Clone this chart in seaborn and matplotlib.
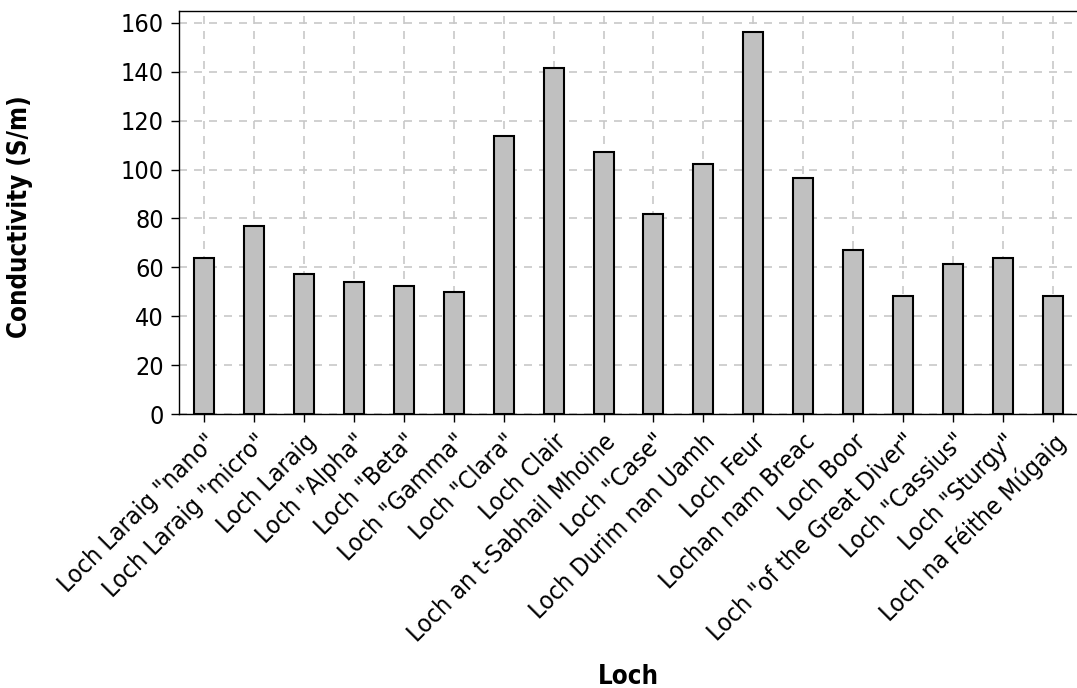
import matplotlib
matplotlib.use("Agg")
import matplotlib.pyplot as plt
import seaborn as sns
import pandas as pd
from matplotlib import font_manager as fm

lochs = [
    'Loch Laraig "nano"', 'Loch Laraig "micro"', 'Loch Laraig', 'Loch "Alpha"',
    'Loch "Beta"', 'Loch "Gamma"', 'Loch "Clara"', 'Loch Clair',
    'Loch an t-Sabhail Mhoine', 'Loch "Case"', 'Loch Durim nan Uamh', 'Loch Feur',
    'Lochan nam Breac', 'Loch Boor', 'Loch "of the Great Diver"', 'Loch "Cassius"',
    'Loch "Sturgy"', 'Loch na Féithe Múgaig',
]
conductivity = [63.7, 76.8, 57.1, 53.9, 52.2, 49.8, 113.6, 141.4,
                107.0, 81.7, 102.1, 156.1, 96.4, 67.0, 48.1, 61.2,
                63.7, 48.1]
y_ticks = [0, 20, 40, 60, 80, 100, 120, 140, 160]

df = pd.DataFrame({"Loch": lochs, "Conductivity": conductivity})

sns.set_style("white")
# Tahoma-like look: use condensed DejaVu if it's installed
path = fm.findfont(fm.FontProperties(family="DejaVu Sans", stretch="condensed"))
plt.rcParams["font.family"] = ["DejaVu Sans"]
if "Condensed" in path:
    plt.rcParams["font.stretch"] = "condensed"
    fsize, lsize = 18, 18.5
else:
    fsize, lsize = 16.5, 17
plt.rcParams.update({"text.color": "black", "axes.labelcolor": "black",
                     "xtick.color": "black", "ytick.color": "black"})

fig = plt.figure(figsize=(10.77, 6.88), dpi=100)
ax = fig.add_axes([179 / 1077, 1 - 414 / 688, 899 / 1077, (414 - 10.7) / 688])

sns.barplot(data=df, x="Loch", y="Conductivity", ax=ax, width=0.4,
            color="#c0c0c0", saturation=1, edgecolor="black", linewidth=1.5,
            zorder=3)

ax.set_xlim(-0.5, len(lochs) - 0.5)
ax.set_ylim(0, 165)
ax.set_yticks(y_ticks)
ax.grid(True, color="#c8c8c8", linestyle=(0, (4.8, 4.2)), linewidth=1.2, zorder=0)
ax.set_axisbelow(True)

for s in ax.spines.values():
    s.set_linewidth(1.0)
    s.set_color("black")

ax.tick_params(axis="both", direction="out", length=6, width=1, color="black",
               labelsize=fsize, pad=5, left=True, bottom=True)
plt.setp(ax.get_xticklabels(), rotation=45, ha="right", va="top",
         rotation_mode="anchor")

ax.set_xlabel("Loch", fontsize=lsize, fontweight="bold")
ax.set_ylabel("Conductivity (S/m)", fontsize=lsize, fontweight="bold")
ax.xaxis.set_label_coords(0.5, -0.62)
ax.yaxis.set_label_coords(-0.162, 0.49)

fig.savefig("out.png", dpi=100)
